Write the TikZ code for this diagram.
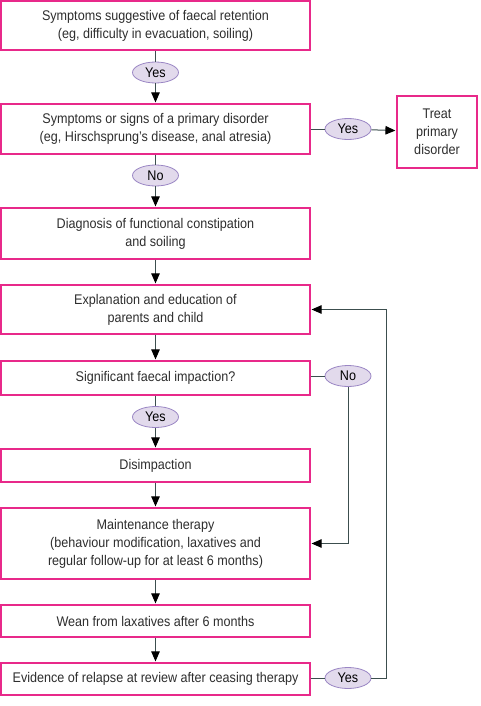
\documentclass[tikz,border=0pt]{standalone}
\usepackage{fontspec}
\setmainfont{Liberation Sans}[FakeStretch=0.9]
\usepackage{tikz}
\usetikzlibrary{arrows.meta,shapes.geometric}
\definecolor{boxpink}{HTML}{E8298A}
\definecolor{ovalfill}{HTML}{E2DAEC}
\definecolor{ovaldraw}{HTML}{9A86C4}
\definecolor{linegray}{HTML}{3C4E4E}
\definecolor{textgray}{HTML}{2E2E2E}

\begin{document}
\begin{tikzpicture}[
    x=1pt, y=-1pt,
    every node/.style={font=\fontsize{14}{18}\selectfont, text=textgray, align=center, inner sep=0pt},
    stepbox/.style={rectangle, draw=boxpink, line width=1.2pt, minimum width=309pt, fill=white},
    answer/.style={ellipse, draw=ovaldraw, fill=ovalfill, line width=0.8pt, minimum width=46pt, minimum height=21pt, text=black},
    link/.style={draw=linegray, line width=1pt},
    arrow/.style={link, -{Triangle[length=10pt,width=8.5pt,black]}, shorten >=1pt}
]
\useasboundingbox (0,0) rectangle (480,706);

\node[stepbox, minimum height=49pt] (retention) at (155.5,25.5) {Symptoms suggestive of faecal retention\\(eg, difficulty in evacuation, soiling)};
\node[stepbox, minimum height=50pt] (primary) at (155.5,129) {Symptoms or signs of a primary disorder\\(eg, Hirschsprung's disease, anal atresia)};
\node[stepbox, minimum height=72pt, minimum width=80pt] (treat) at (437,132) {Treat\\primary\\disorder};
\node[stepbox, minimum height=51pt] (diagnosis) at (155.5,233.5) {Diagnosis of functional constipation\\and soiling};
\node[stepbox, minimum height=49pt] (education) at (155.5,309.5) {Explanation and education of\\parents and child};
\node[stepbox, minimum height=34pt] (impaction) at (155.5,378) {Significant faecal impaction?};
\node[stepbox, minimum height=33pt] (disimpaction) at (155.5,465.5) {Disimpaction};
\node[stepbox, minimum height=71pt] (maintenance) at (155.5,543.5) {Maintenance therapy\\(behaviour modification, laxatives and\\regular follow-up for at least 6 months)};
\node[stepbox, minimum height=32pt] (wean) at (155.5,621) {Wean from laxatives after 6 months};
\node[stepbox, minimum height=32pt] (relapse) at (155.5,679) {Evidence of relapse at review after ceasing therapy};

\node[answer] (yes1) at (155.5,72.5) {Yes};
\node[answer] (yes2) at (348,129) {Yes};
\node[answer] (no1) at (155.5,175.5) {No};
\node[answer] (no2) at (348,376) {No};
\node[answer] (yes3) at (155.5,417) {Yes};
\node[answer] (yes4) at (348,678) {Yes};

\coordinate (loop) at (386,678);

% main line
\draw[link] (retention) -- (yes1);
\draw[arrow] (yes1) -- (primary);
\draw[link] (primary) -- (yes2);
\draw[arrow] (yes2) -- (treat);
\draw[link] (primary) -- (no1);
\draw[arrow] (no1) -- (diagnosis);
\draw[arrow] (diagnosis) -- (education);
\draw[arrow] (education) -- (impaction);
\draw[link] (impaction) -- (yes3);
\draw[arrow] (yes3) -- (disimpaction);
\draw[arrow] (disimpaction) -- (maintenance);
\draw[arrow] (maintenance) -- (wean);
\draw[arrow] (wean) -- (relapse);

% side branches
\draw[link] (impaction.east |- no2) -- (no2);
\draw[arrow] (no2.south) |- (maintenance.east);
\draw[link] (relapse.east |- yes4) -- (yes4);
\draw[arrow] (yes4) -- (loop) |- (education.east);
\end{tikzpicture}
\end{document}
